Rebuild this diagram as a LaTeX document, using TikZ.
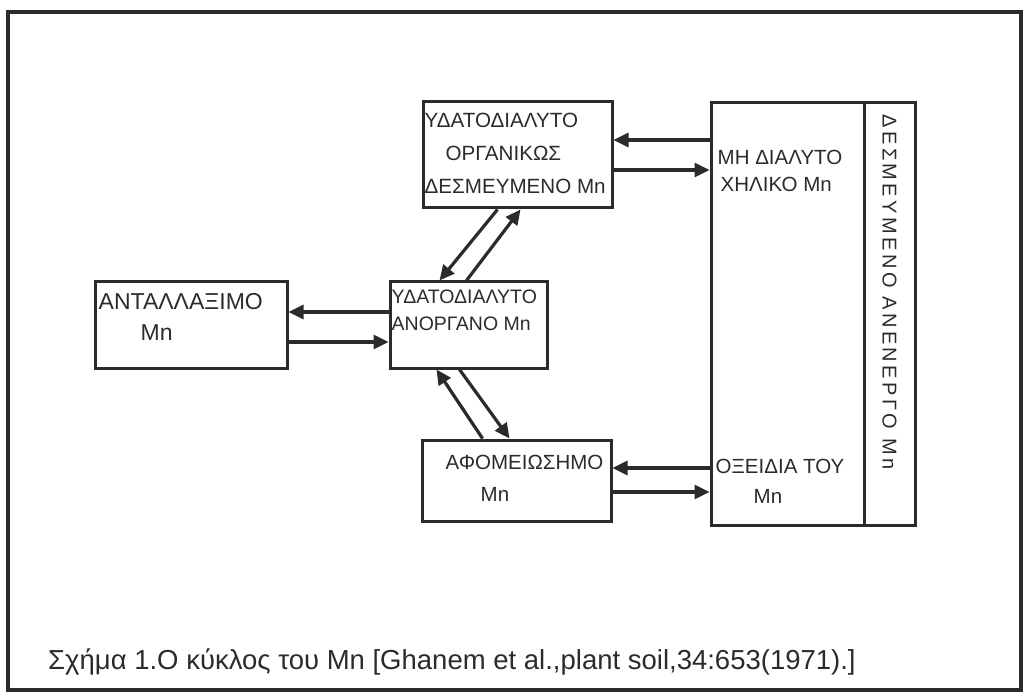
\documentclass[tikz,border=0pt]{standalone}
\usepackage{fontspec}
\setmainfont{Liberation Sans}
\newfontfamily\spacedfont[LetterSpace=17]{Liberation Sans}
\usetikzlibrary{arrows.meta}
\usepackage{xcolor}
\definecolor{mnInk}{HTML}{2B2B2B}

\begin{document}
\begin{tikzpicture}[x=1pt, y=-1pt,
  box/.style={draw=mnInk, line width=3pt, inner sep=0pt},
  flow/.style={-{Triangle[length=15pt,width=14pt]}, line width=3.2pt, mnInk},
  txt/.style={anchor=north west, align=left, inner sep=0pt, text=mnInk}]
\useasboundingbox (0,0) rectangle (1027,700);
\draw[mnInk, line width=4.5pt] (8,12) rectangle (1021,690);
\node[box, minimum width=189pt, minimum height=106pt] (org) at (517.5,155) {};
\node[box, minimum width=153pt, minimum height=422pt] (chel) at (787.5,314) {};
\node[box, minimum width=51pt, minimum height=422pt] (inert) at (889.5,314) {};
\node[box, minimum width=192pt, minimum height=86pt] (exch) at (191,325) {};
\node[box, minimum width=157pt, minimum height=86pt] (inorg) at (468.5,325) {};
\node[box, minimum width=189pt, minimum height=81pt] (red) at (516.5,480.5) {};
\node[txt, font=\fontsize{20.6}{33}\selectfont] (orgT) at ([xshift=3pt,yshift=-12pt]org.north west)
  {ΥΔΑΤΟΔΙΑΛΥΤΟ\\\hspace*{21pt}ΟΡΓΑΝΙΚΩΣ\\ΔΕΣΜΕΥΜΕΝΟ Mn};
\node[txt, font=\fontsize{23}{31}\selectfont] (exchT) at ([xshift=5pt,yshift=-13pt]exch.north west)
  {ΑΝΤΑΛΛΑΞΙΜΟ\\\hspace*{42pt}Mn};
\node[txt, font=\fontsize{19.5}{27}\selectfont] (inorgT) at ([xshift=3pt,yshift=-9pt]inorg.north west)
  {ΥΔΑΤΟΔΙΑΛΥΤΟ\\ΑΝΟΡΓΑΝΟ Mn};
\node[txt, font=\fontsize{20.5}{27}\selectfont] (chelT) at ([xshift=8pt,yshift=-48pt]chel.north west)
  {ΜΗ ΔΙΑΛΥΤΟ\\\hspace*{3pt}ΧΗΛΙΚΟ Mn};
\node[txt, font=\fontsize{20.5}{30}\selectfont] (oxT) at ([xshift=6pt,yshift=68pt]chel.south west)
  {ΟΞΕΙΔΙΑ ΤΟΥ\\\hspace*{38pt}Mn};
\node[txt, font=\fontsize{20.5}{32}\selectfont] (redT) at ([xshift=25pt,yshift=-16pt]red.north west)
  {ΑΦΟΜΕΙΩΣΗΜΟ\\\hspace*{35pt}Mn};
\node[rotate=-90, inner sep=0pt, text=mnInk, font=\spacedfont\fontsize{20}{20}\selectfont] (inertT)
  at ([yshift=22pt]inert.center) {ΔΕΣΜΕΥΜΕΝΟ ΑΝΕΝΕΡΓΟ Mn};
\draw[flow] (chel.west |- 0,140) -- (org.east |- 0,140);
\draw[flow] (org.east |- 0,170) -- (chel.west |- 0,170);
\draw[flow] (inorg.west |- 0,312) -- (exch.east |- 0,312);
\draw[flow] (exch.east |- 0,342) -- (inorg.west |- 0,342);
\draw[flow] ([xshift=-20pt]org.south) -- ([xshift=-29pt]inorg.north);
\draw[flow] ([xshift=-2pt]inorg.north) -- ([xshift=3pt]org.south);
\draw[flow] ([xshift=-34pt]red.north) -- ([xshift=-32pt]inorg.south);
\draw[flow] ([xshift=-9pt]inorg.south) -- ([xshift=-7pt]red.north);
\draw[flow] (chel.west |- 0,468) -- (red.east |- 0,468);
\draw[flow] (red.east |- 0,492) -- (chel.west |- 0,492);
\node[anchor=base west, inner sep=0pt, text=mnInk, font=\fontsize{27.5}{27.5}\selectfont] (caption)
  at (48,669) {Σχήμα 1.Ο κύκλος του Mn [Ghanem et al.,plant soil,34:653(1971).]};
\end{tikzpicture}
\end{document}
